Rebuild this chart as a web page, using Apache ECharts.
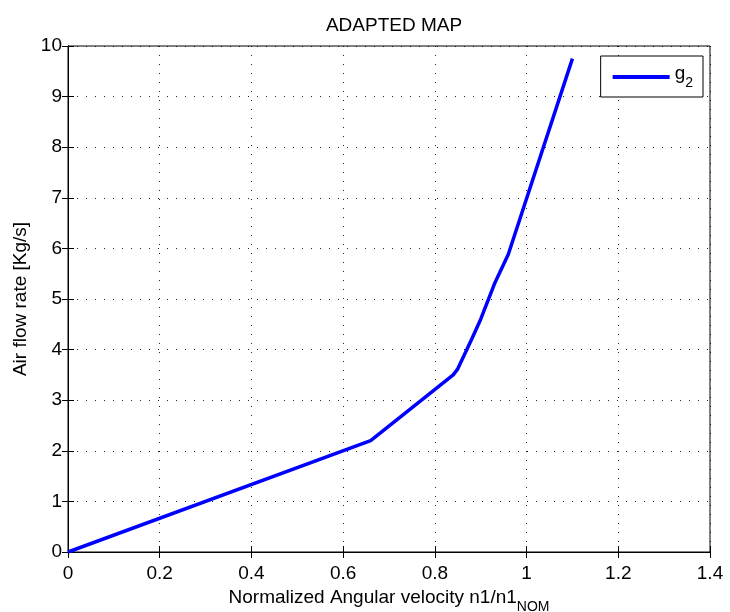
<!DOCTYPE html>
<html>
<head>
<meta charset="utf-8">
<script src="https://cdn.jsdelivr.net/npm/echarts@6/dist/echarts.min.js"></script>
<style>
html,body{margin:0;padding:0;background:#fff;}
#chart{width:730px;height:612px;}
</style>
</head>
<body>
<div id="chart"></div>
<script>
// Normalized angular velocity vs. air flow rate
const speedRatio = [0, 0.66, 0.84, 0.85, 0.88, 0.90, 0.93, 0.96, 1.10];
const airFlow    = [0, 2.20, 3.50, 3.62, 4.20, 4.60, 5.30, 5.88, 9.75];

const font = 'Liberation Sans, Arial, sans-serif';
const chart = echarts.init(document.getElementById('chart'));

const gridLine = { show: true, lineStyle: { color: '#000', type: [1, 8], width: 1, opacity: 0.85 } };
const frame = { show: true, lineStyle: { color: '#000', width: 1 } };
const tickIn = { show: true, inside: true, length: 6, lineStyle: { color: '#000' } };

chart.setOption({
  animation: false,
  backgroundColor: '#fff',
  title: {
    text: 'ADAPTED MAP',
    left: 389, top: 11, textAlign: 'center',
    textStyle: { fontFamily: font, fontSize: 19, fontWeight: 'normal', color: '#000' }
  },
  legend: {
    right: 27, top: 56,
    orient: 'vertical',
    backgroundColor: '#fff',
    borderColor: '#000', borderWidth: 1, borderRadius: 0,
    padding: [8, 10, 7, 12],
    itemWidth: 57, itemHeight: 4, itemGap: 0,
    icon: 'rect',
    formatter: function () { return '{g|g}{s|2}'; },
    textStyle: {
      fontFamily: font, color: '#000',
      rich: {
        g: { fontFamily: font, fontSize: 19, color: '#000', verticalAlign: 'top' },
        s: { fontFamily: font, fontSize: 14, color: '#000', verticalAlign: 'bottom', padding: [12, 0, 0, 0] }
      }
    },
    data: ['g2']
  },
  grid: {
    left: 68, right: 20, top: 46, bottom: 60,
    outerBoundsMode: 'none', containLabel: false,
    show: true, borderColor: '#000', borderWidth: 1
  },
  xAxis: [{
    type: 'value', min: 0, max: 1.4, interval: 0.2,
    name: '{n|Normalized Angular velocity n1/n1}{sub|NOM}',
    nameLocation: 'middle', nameGap: 27,
    nameTextStyle: {
      rich: {
        n: { fontFamily: font, fontSize: 19, color: '#000', verticalAlign: 'top' },
        sub: { fontFamily: font, fontSize: 14, color: '#000', verticalAlign: 'bottom', padding: [12, 0, 0, 0] }
      }
    },
    axisLine: frame, axisTick: tickIn, splitLine: gridLine,
    axisLabel: { fontFamily: font, fontSize: 19, color: '#000', margin: 12,
      formatter: v => String(parseFloat(v.toFixed(1))) }
  }, {
    type: 'value', min: 0, max: 1.4, interval: 0.2, position: 'top',
    axisLine: frame, axisTick: tickIn, axisLabel: { show: false }, splitLine: { show: false }
  }],
  yAxis: [{
    type: 'value', min: 0, max: 10, interval: 1,
    name: 'Air flow rate [Kg/s]',
    nameLocation: 'middle', nameGap: 33,
    nameTextStyle: { fontFamily: font, fontSize: 19, color: '#000' },
    axisLine: frame, axisTick: tickIn, splitLine: gridLine,
    axisLabel: { fontFamily: font, fontSize: 19, color: '#000', margin: 6 }
  }, {
    type: 'value', min: 0, max: 10, interval: 1, position: 'right',
    axisLine: frame, axisTick: tickIn, axisLabel: { show: false }, splitLine: { show: false }
  }],
  series: [{
    name: 'g2',
    type: 'line',
    data: speedRatio.map((x, i) => [x, airFlow[i]]),
    showSymbol: false,
    symbol: 'none',
    color: '#0000ff',
    lineStyle: { color: '#0000ff', width: 3.5 }
  }]
});
</script>
</body>
</html>
